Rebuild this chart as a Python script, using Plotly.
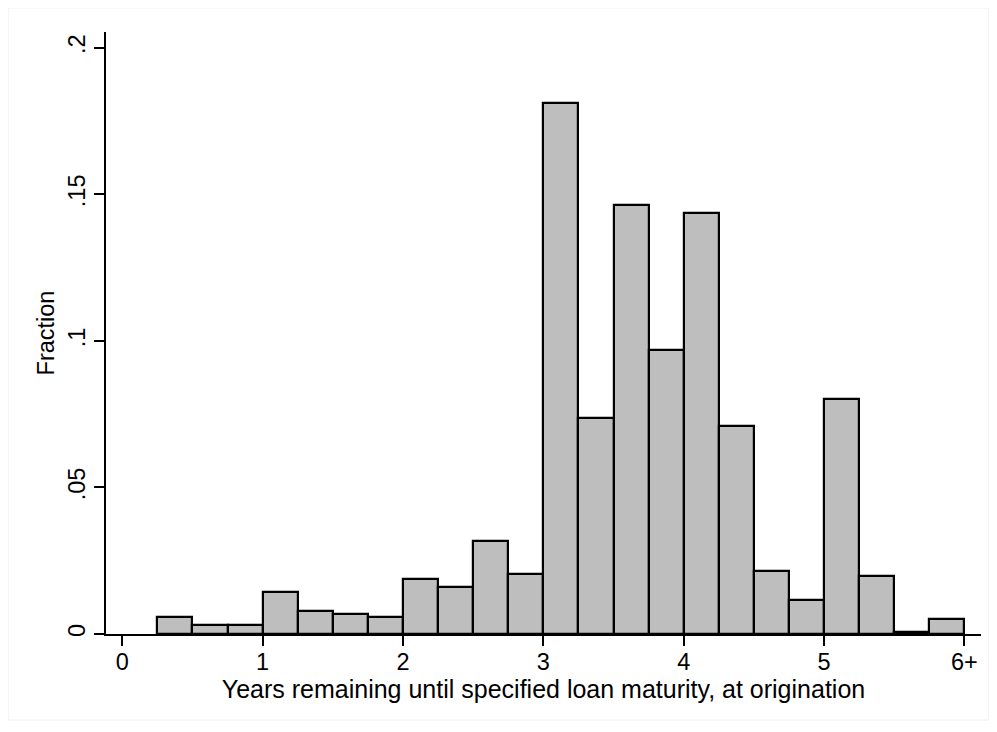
import plotly.graph_objects as go

bin_starts = [0.25, 0.5, 0.75, 1.0, 1.25, 1.5, 1.75, 2.0, 2.25, 2.5, 2.75,
              3.0, 3.25, 3.5, 3.75, 4.0, 4.25, 4.5, 4.75, 5.0, 5.25, 5.5, 5.75]
fractions = [0.0059, 0.0031, 0.0031, 0.0142, 0.0078, 0.0069, 0.0059, 0.0188,
             0.0161, 0.0317, 0.0206, 0.1813, 0.0738, 0.1465, 0.0968, 0.1438,
             0.0711, 0.0214, 0.0115, 0.0803, 0.0198, 0.0008, 0.0051]
bin_width = 0.25
x_ticks = [0, 1, 2, 3, 4, 5, 6]
x_tick_labels = ["0", "1", "2", "3", "4", "5", "6+"]
y_ticks = [0, 0.05, 0.1, 0.15, 0.2]
y_tick_labels = ["0", ".05", ".1", ".15", ".2"]

centers = [s + bin_width / 2 for s in bin_starts]

fig = go.Figure()
fig.add_trace(go.Bar(
    x=centers, y=fractions, width=bin_width,
    marker=dict(color="#BEBEBE", line=dict(color="black", width=2.2)),
    hoverinfo="x+y",
))

font_family = "Liberation Sans, Arial, sans-serif"
fig.update_layout(
    width=997, height=732,
    margin=dict(l=98, r=24, t=24, b=106),
    paper_bgcolor="white", plot_bgcolor="white",
    showlegend=False, bargap=0,
    font=dict(family=font_family, size=23, color="black"),
    xaxis=dict(
        range=[-0.116, 6.118], tickmode="array", tickvals=x_ticks,
        ticktext=x_tick_labels, ticks="outside", ticklen=10, tickwidth=1.5,
        tickcolor="black", showline=True, linecolor="black", linewidth=1.5,
        showgrid=False, zeroline=False, tickfont=dict(size=23.5),
        ticklabelstandoff=-4,
        title=dict(text="Years remaining until specified loan maturity, at origination",
                   font=dict(size=25), standoff=1),
    ),
    yaxis=dict(
        range=[0, 0.2054], tickmode="array", tickvals=y_ticks,
        ticktext=y_tick_labels, ticks="outside", ticklen=10, tickwidth=1.5,
        tickcolor="black", showline=True, linecolor="black", linewidth=1.5,
        showgrid=False, zeroline=False, tickangle=-90, tickfont=dict(size=23.5),
        title=dict(text="Fraction", font=dict(size=23.5), standoff=3),
    ),
    shapes=[dict(type="rect", xref="paper", yref="paper",
                 x0=-0.112, x1=1.009, y0=-0.143, y1=1.04,
                 line=dict(color="#EEEEEE", width=1), layer="below")],
)

fig.write_html("out.html")
